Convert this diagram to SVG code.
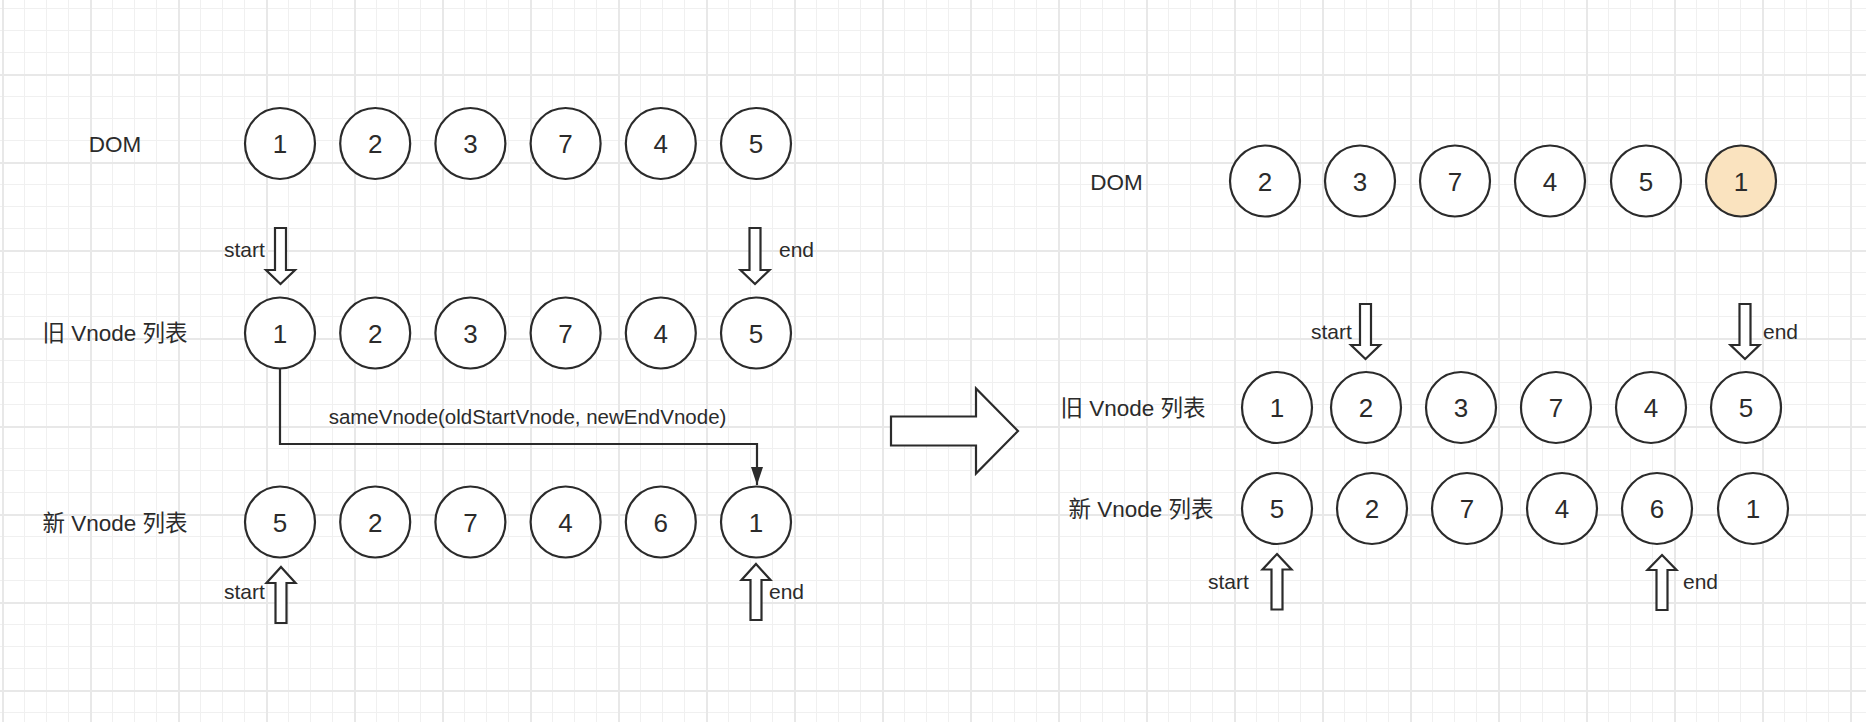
<svg xmlns="http://www.w3.org/2000/svg" width="1866" height="722" viewBox="0 0 1866 722">
<style>
.c{fill:#ffffff;stroke:#2b2b2b;stroke-width:2.2}
.hl{fill:#fae3bf}
.n{font-family:"Liberation Sans","Noto Sans CJK SC",sans-serif;font-size:26px;fill:#2b2b2b;text-anchor:middle}
.lb{font-family:"Liberation Sans","Noto Sans CJK SC",sans-serif;font-size:22.5px;fill:#2b2b2b;text-anchor:middle}
.sm{font-family:"Liberation Sans","Noto Sans CJK SC",sans-serif;font-size:21px;fill:#2b2b2b}
.ar{fill:#ffffff;stroke:#2b2b2b;stroke-width:2.2;stroke-linejoin:miter}
.ln{fill:none;stroke:#2b2b2b;stroke-width:2.2}
</style>
<defs>
<pattern id="grid" patternUnits="userSpaceOnUse" x="2" y="74" width="88" height="88">
<rect x="22" y="0" width="1" height="88" fill="#f0f0f0"/>
<rect x="44" y="0" width="1" height="88" fill="#f0f0f0"/>
<rect x="66" y="0" width="1" height="88" fill="#f0f0f0"/>
<rect x="0" y="22" width="88" height="1" fill="#f0f0f0"/>
<rect x="0" y="44" width="88" height="1" fill="#f0f0f0"/>
<rect x="0" y="66" width="88" height="1" fill="#f0f0f0"/>
<rect x="0" y="0" width="2" height="88" fill="#e8e8e8"/>
<rect x="0" y="0" width="88" height="2" fill="#e8e8e8"/>
</pattern>
<marker id="tri" markerUnits="userSpaceOnUse" markerWidth="20" markerHeight="14" refX="18" refY="6" orient="auto">
<path d="M0,0 L18,6 L0,12 z" fill="#2b2b2b"/>
</marker>
</defs>
<rect x="0" y="0" width="1866" height="722" fill="#ffffff"/>
<rect x="0" y="0" width="1866" height="722" fill="url(#grid)"/>

<!-- Left labels -->
<g id="l-dom-label"><text class="lb" x="115" y="152">DOM</text></g>
<g id="l-old-label"><text class="lb" x="115" y="341">旧 Vnode 列表</text></g>
<g id="l-new-label"><text class="lb" x="115" y="531">新 Vnode 列表</text></g>

<!-- Left DOM row -->
<g id="l-dom-1"><ellipse class="c" cx="280" cy="143.5" rx="35" ry="35.5"/><text class="n" x="280" y="153">1</text></g>
<g id="l-dom-2"><ellipse class="c" cx="375.2" cy="143.5" rx="35" ry="35.5"/><text class="n" x="375.2" y="153">2</text></g>
<g id="l-dom-3"><ellipse class="c" cx="470.4" cy="143.5" rx="35" ry="35.5"/><text class="n" x="470.4" y="153">3</text></g>
<g id="l-dom-7"><ellipse class="c" cx="565.6" cy="143.5" rx="35" ry="35.5"/><text class="n" x="565.6" y="153">7</text></g>
<g id="l-dom-4"><ellipse class="c" cx="660.8" cy="143.5" rx="35" ry="35.5"/><text class="n" x="660.8" y="153">4</text></g>
<g id="l-dom-5"><ellipse class="c" cx="756" cy="143.5" rx="35" ry="35.5"/><text class="n" x="756" y="153">5</text></g>

<!-- Left old row -->
<g id="l-old-1"><ellipse class="c" cx="280" cy="333" rx="35" ry="35.5"/><text class="n" x="280" y="342.5">1</text></g>
<g id="l-old-2"><ellipse class="c" cx="375.2" cy="333" rx="35" ry="35.5"/><text class="n" x="375.2" y="342.5">2</text></g>
<g id="l-old-3"><ellipse class="c" cx="470.4" cy="333" rx="35" ry="35.5"/><text class="n" x="470.4" y="342.5">3</text></g>
<g id="l-old-7"><ellipse class="c" cx="565.6" cy="333" rx="35" ry="35.5"/><text class="n" x="565.6" y="342.5">7</text></g>
<g id="l-old-4"><ellipse class="c" cx="660.8" cy="333" rx="35" ry="35.5"/><text class="n" x="660.8" y="342.5">4</text></g>
<g id="l-old-5"><ellipse class="c" cx="756" cy="333" rx="35" ry="35.5"/><text class="n" x="756" y="342.5">5</text></g>

<!-- Left new row -->
<g id="l-new-5"><ellipse class="c" cx="280" cy="522" rx="35" ry="35.5"/><text class="n" x="280" y="531.5">5</text></g>
<g id="l-new-2"><ellipse class="c" cx="375.2" cy="522" rx="35" ry="35.5"/><text class="n" x="375.2" y="531.5">2</text></g>
<g id="l-new-7"><ellipse class="c" cx="470.4" cy="522" rx="35" ry="35.5"/><text class="n" x="470.4" y="531.5">7</text></g>
<g id="l-new-4"><ellipse class="c" cx="565.6" cy="522" rx="35" ry="35.5"/><text class="n" x="565.6" y="531.5">4</text></g>
<g id="l-new-6"><ellipse class="c" cx="660.8" cy="522" rx="35" ry="35.5"/><text class="n" x="660.8" y="531.5">6</text></g>
<g id="l-new-1"><ellipse class="c" cx="756" cy="522" rx="35" ry="35.5"/><text class="n" x="756" y="531.5">1</text></g>

<!-- Left pointer arrows -->
<g id="l-old-start"><polygon class="ar" points="275,228 286,228 286,270 295,270 280.5,284 266,270 275,270"/><text class="sm" x="224" y="257">start</text></g>
<g id="l-old-end"><polygon class="ar" points="749.5,228 760.5,228 760.5,270 769.5,270 755,284 740.5,270 749.5,270"/><text class="sm" x="779" y="257">end</text></g>
<g id="l-new-start"><polygon class="ar" points="281,567 295.5,583 286.5,583 286.5,623 275.5,623 275.5,583 266.5,583"/><text class="sm" x="224" y="599">start</text></g>
<g id="l-new-end"><polygon class="ar" points="756,564 770.5,580 761.5,580 761.5,620 750.5,620 750.5,580 741.5,580"/><text class="sm" x="769" y="599">end</text></g>

<!-- Connectors -->
<g id="connectors">
<path class="ln" d="M280,369 V444 H757 V485" marker-end="url(#tri)"/>
<text class="sm" x="527.5" y="424" text-anchor="middle" style="font-size:20.5px">sameVnode(oldStartVnode, newEndVnode)</text>
</g>

<!-- Big transition arrow -->
<g id="big-arrow"><polygon class="ar" points="891,416.5 976,416.5 976,388.5 1018,431 976,473.5 976,445.5 891,445.5"/></g>

<!-- Right labels -->
<g id="r-dom-label"><text class="lb" x="1116.5" y="190">DOM</text></g>
<g id="r-old-label"><text class="lb" x="1133" y="416">旧 Vnode 列表</text></g>
<g id="r-new-label"><text class="lb" x="1141" y="517">新 Vnode 列表</text></g>

<!-- Right DOM row -->
<g id="r-dom-2"><ellipse class="c" cx="1265" cy="181" rx="35" ry="35.5"/><text class="n" x="1265" y="190.5">2</text></g>
<g id="r-dom-3"><ellipse class="c" cx="1360" cy="181" rx="35" ry="35.5"/><text class="n" x="1360" y="190.5">3</text></g>
<g id="r-dom-7"><ellipse class="c" cx="1455" cy="181" rx="35" ry="35.5"/><text class="n" x="1455" y="190.5">7</text></g>
<g id="r-dom-4"><ellipse class="c" cx="1550" cy="181" rx="35" ry="35.5"/><text class="n" x="1550" y="190.5">4</text></g>
<g id="r-dom-5"><ellipse class="c" cx="1646" cy="181" rx="35" ry="35.5"/><text class="n" x="1646" y="190.5">5</text></g>
<g id="r-dom-1"><ellipse class="c hl" cx="1741" cy="181" rx="35" ry="35.5"/><text class="n" x="1741" y="190.5">1</text></g>

<!-- Right old row -->
<g id="r-old-1"><ellipse class="c" cx="1277" cy="407.5" rx="35" ry="35.5"/><text class="n" x="1277" y="417">1</text></g>
<g id="r-old-2"><ellipse class="c" cx="1366" cy="407.5" rx="35" ry="35.5"/><text class="n" x="1366" y="417">2</text></g>
<g id="r-old-3"><ellipse class="c" cx="1461" cy="407.5" rx="35" ry="35.5"/><text class="n" x="1461" y="417">3</text></g>
<g id="r-old-7"><ellipse class="c" cx="1556" cy="407.5" rx="35" ry="35.5"/><text class="n" x="1556" y="417">7</text></g>
<g id="r-old-4"><ellipse class="c" cx="1651" cy="407.5" rx="35" ry="35.5"/><text class="n" x="1651" y="417">4</text></g>
<g id="r-old-5"><ellipse class="c" cx="1746" cy="407.5" rx="35" ry="35.5"/><text class="n" x="1746" y="417">5</text></g>

<!-- Right new row -->
<g id="r-new-5"><ellipse class="c" cx="1277" cy="508.5" rx="35" ry="35.5"/><text class="n" x="1277" y="518">5</text></g>
<g id="r-new-2"><ellipse class="c" cx="1372" cy="508.5" rx="35" ry="35.5"/><text class="n" x="1372" y="518">2</text></g>
<g id="r-new-7"><ellipse class="c" cx="1467" cy="508.5" rx="35" ry="35.5"/><text class="n" x="1467" y="518">7</text></g>
<g id="r-new-4"><ellipse class="c" cx="1562" cy="508.5" rx="35" ry="35.5"/><text class="n" x="1562" y="518">4</text></g>
<g id="r-new-6"><ellipse class="c" cx="1657" cy="508.5" rx="35" ry="35.5"/><text class="n" x="1657" y="518">6</text></g>
<g id="r-new-1"><ellipse class="c" cx="1753" cy="508.5" rx="35" ry="35.5"/><text class="n" x="1753" y="518">1</text></g>

<!-- Right pointer arrows -->
<g id="r-old-start"><polygon class="ar" points="1360,304 1371,304 1371,345 1380,345 1365.5,359 1351,345 1360,345"/><text class="sm" x="1311" y="339">start</text></g>
<g id="r-old-end"><polygon class="ar" points="1739.5,304 1750.5,304 1750.5,345 1759.5,345 1745,359 1730.5,345 1739.5,345"/><text class="sm" x="1763" y="339">end</text></g>
<g id="r-new-start"><polygon class="ar" points="1277,554 1291.5,569.5 1282.5,569.5 1282.5,609.5 1271.5,609.5 1271.5,569.5 1262.5,569.5"/><text class="sm" x="1208" y="589">start</text></g>
<g id="r-new-end"><polygon class="ar" points="1662,555 1676.5,570 1667.5,570 1667.5,610 1656.5,610 1656.5,570 1647.5,570"/><text class="sm" x="1683" y="589">end</text></g>
</svg>
